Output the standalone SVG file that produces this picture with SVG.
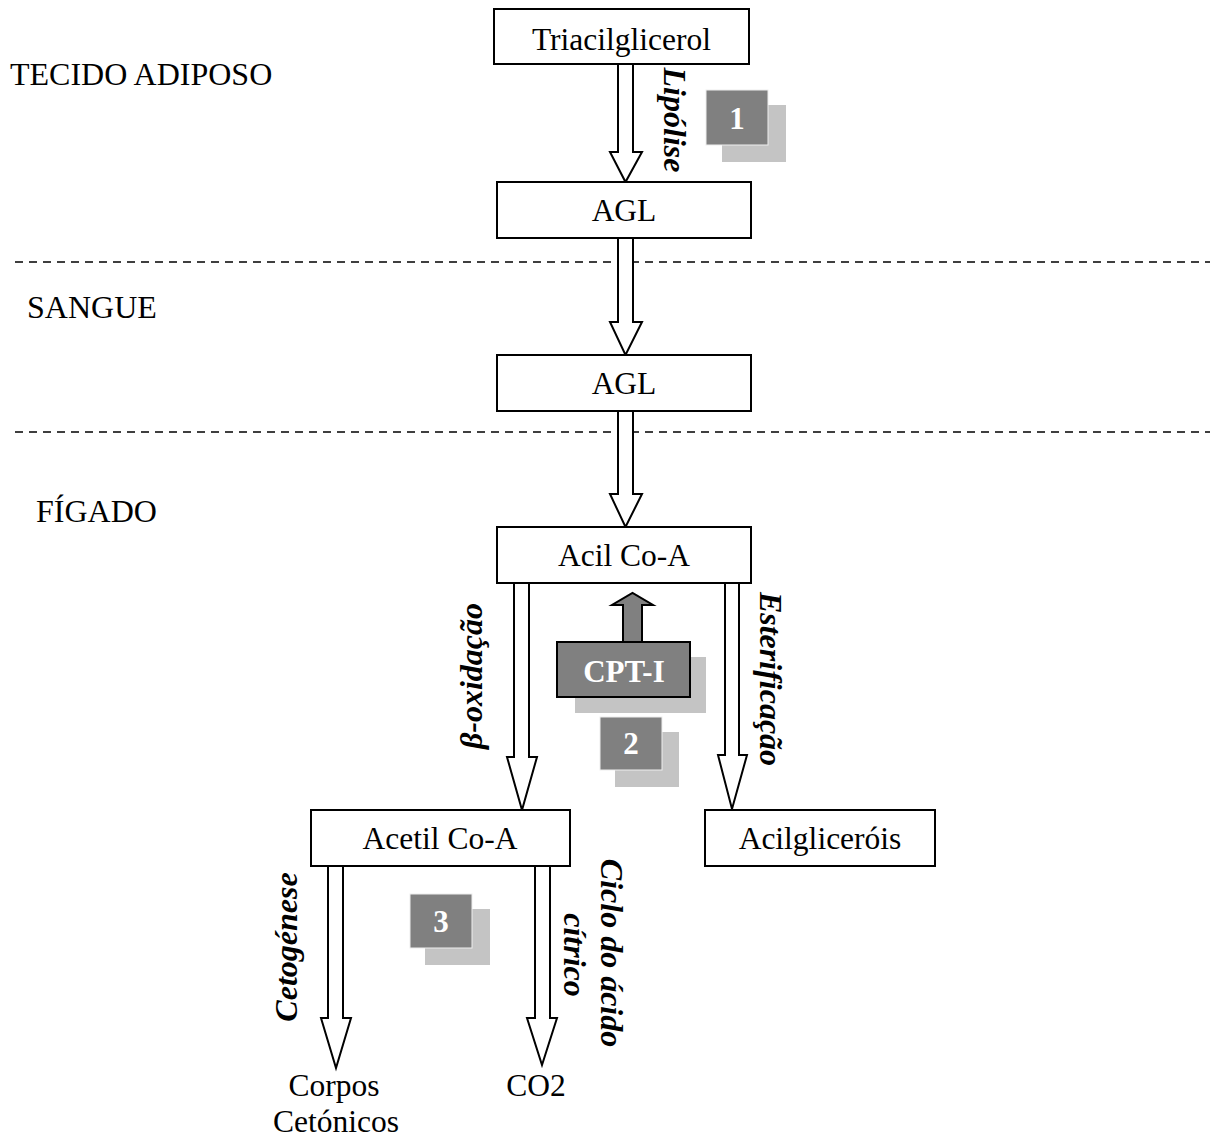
<svg xmlns="http://www.w3.org/2000/svg" width="1215" height="1140" viewBox="0 0 1215 1140">
<style>
.t{font-family:"Liberation Serif","Times New Roman",serif;font-size:31.5px;fill:#000}
.r{font-size:32px}
.m{text-anchor:middle}
.lbl{font-family:"Liberation Serif","Times New Roman",serif;font-size:32px;font-weight:bold;font-style:italic;fill:#000;text-anchor:middle}
.box{fill:#fff;stroke:#000;stroke-width:2}
.arr{fill:#fff;stroke:#000;stroke-width:2;stroke-linejoin:miter}
.dash{stroke:#000;stroke-width:1.4;stroke-dasharray:8 6;fill:none}
.dark{fill:#808080}
.sh{fill:#c4c4c4}
.num{font-family:"Liberation Serif","Times New Roman",serif;font-size:31px;font-weight:bold;fill:#fff;text-anchor:middle}
</style>
<rect width="1215" height="1140" fill="#fff"/>

<g id="regions">
<text class="t r" x="10" y="85">TECIDO ADIPOSO</text>
<text class="t r" x="27" y="318">SANGUE</text>
<text class="t r" x="36" y="522">FÍGADO</text>
<line class="dash" x1="15" y1="262" x2="1210" y2="262"/>
<line class="dash" x1="15" y1="432" x2="1210" y2="432"/>
</g>

<g id="connectors">
<polygon class="arr" points="618,64 633,64 633,152 642,152 625.5,182 610,152 618,152"/>
<polygon class="arr" points="618,238 633,238 633,322 642,322 625.5,355 610,322 618,322"/>
<polygon class="arr" points="618,411 633,411 633,494 642,494 625.5,527 610,494 618,494"/>
<polygon class="arr" points="514,583 529,583 529,757 537,757 522,810 507,757 514,757"/>
<polygon class="arr" points="725,583 739,583 739,755 747,755 732,809 718,755 725,755"/>
<polygon class="arr" points="328,866 343,866 343,1018 351,1018 336,1068 321,1018 328,1018"/>
<polygon class="arr" points="535,866 550,866 550,1018 557,1018 542,1065 527,1018 535,1018"/>
<polygon points="623,642 642,642 642,605 653,605 632.5,593 612,605 623,605" fill="#808080" stroke="#000" stroke-width="2"/>
<text class="lbl" transform="translate(664,120) rotate(90)">Lipólise</text>
<text class="lbl" transform="translate(482,676) rotate(-90)">β-oxidação</text>
<text class="lbl" transform="translate(760,679) rotate(90)">Esterificação</text>
<text class="lbl" transform="translate(297,947) rotate(-90)">Cetogénese</text>
<text class="lbl" transform="translate(601,953) rotate(90)">Ciclo do ácido</text>
<text class="lbl" transform="translate(564,955) rotate(90)">cítrico</text>
</g>

<g id="triacilglicerol">
<rect class="box" x="494" y="9" width="255" height="55"/>
<text class="t m" x="621.5" y="50">Triacilglicerol</text>
</g>
<g id="agl-adiposo">
<rect class="box" x="497" y="182" width="254" height="56"/>
<text class="t m" x="624" y="221">AGL</text>
</g>
<g id="agl-sangue">
<rect class="box" x="497" y="355" width="254" height="56"/>
<text class="t m" x="624" y="394">AGL</text>
</g>
<g id="acil-coa">
<rect class="box" x="497" y="527" width="254" height="56"/>
<text class="t m" x="624" y="566">Acil Co-A</text>
</g>
<g id="acetil-coa">
<rect class="box" x="311" y="810" width="259" height="56"/>
<text class="t m" x="440" y="849">Acetil Co-A</text>
</g>
<g id="acilgliceroi">
<rect class="box" x="705" y="810" width="230" height="56"/>
<text class="t m" x="820" y="849">Acilgliceróis</text>
</g>
<g id="corpos-cetonicos">
<text class="t m" x="334" y="1096">Corpos</text>
<text class="t m" x="336" y="1132">Cetónicos</text>
</g>
<g id="co2">
<text class="t m" x="536" y="1096">CO2</text>
</g>

<g id="cpt-i">
<rect class="sh" x="575" y="657" width="131" height="56"/>
<rect x="557" y="642" width="133" height="55" fill="#808080" stroke="#000" stroke-width="2"/>
<text class="num" x="624" y="682">CPT-I</text>
</g>

<g id="badge-1">
<rect class="sh" x="722" y="105" width="64" height="57"/>
<rect class="dark" x="706" y="90" width="62" height="55" stroke="#eee" stroke-width="1"/>
<text class="num" x="737" y="129">1</text>
</g>
<g id="badge-2">
<rect class="sh" x="615" y="732" width="64" height="55"/>
<rect class="dark" x="600" y="717" width="62" height="53" stroke="#eee" stroke-width="1"/>
<text class="num" x="631" y="754">2</text>
</g>
<g id="badge-3">
<rect class="sh" x="425" y="909" width="65" height="56"/>
<rect class="dark" x="410" y="894" width="62" height="54" stroke="#eee" stroke-width="1"/>
<text class="num" x="441" y="932">3</text>
</g>
</svg>
